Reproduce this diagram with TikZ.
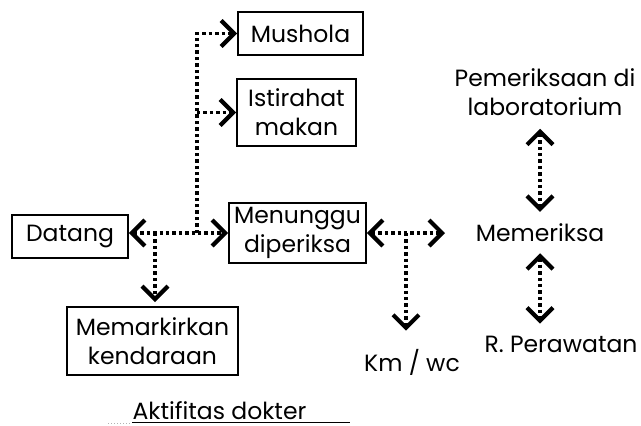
\documentclass[tikz,border=0pt]{standalone}
\usepackage{fontspec}
\setmainfont{Poppins}
\usetikzlibrary{arrows.meta}
\begin{document}
\begin{tikzpicture}[x=1pt,y=-1pt,
  txt/.style={font=\fontsize{23.5}{29}\selectfont, align=center, inner sep=0pt},
  box/.style={txt, draw, line width=1.8pt, minimum width=#1},
  chev/.tip={Straight Barb[length=13pt,width=26pt,line width=4.2pt,line cap=butt]},
  dots/.style={line width=3.6pt, dash pattern=on 3.4pt off 3pt},
  one/.style={dots, -chev},
  both/.style={dots, chev-chev},
]
\useasboundingbox (0,0) rectangle (641,426);

% boxed activities
\node[box=125pt, minimum height=43pt] (mus) at (300.5,33.5) {Mushola};
\node[box=119pt, minimum height=67pt] (ist) at (296.5,112.5) {Istirahat\\makan};
\node[box=137pt, minimum height=60pt] (men) at (297.5,233) {Menunggu\\diperiksa};
\node[box=116pt, minimum height=43pt] (dat) at (70,236.5) {Datang};
\node[box=171pt, minimum height=68pt] (mar) at (152.5,341) {Memarkirkan\\kendaraan};

% free labels
\node[txt] (lab) at (545,92) {Pemeriksaan di\\laboratorium};
\node[txt] (mem) at (540,233) {Memeriksa};
\node[txt] (rp) at (561,344) {R. Perawatan};
\node[txt] (km) at (412,362) {Km / wc};
\node[txt, anchor=base] (akt) at (219.5,419) {Aktifitas dokter};

% junctions
\coordinate (jd) at (155,233);
\coordinate (jv) at (197,233);
\coordinate (jm) at (406,233);
\coordinate (re) at (445,233);

% connectors
\draw[both] (dat.east |- men.west) -- (men.west);
\draw[one, shorten >=4pt] (jd) -- (jd |- mar.north);
\draw[one] (jv) |- (mus.west);
\draw[one] (jv |- ist.west) -- (ist.west);
\draw[both] (men.east) -- (re);
\draw[one, shorten >=18pt] (jm) -- (jm |- km.north);
\draw[both, shorten <=13pt, shorten >=12pt] (lab.south -| mem.north) -- (mem.north);
\draw[both, shorten <=11pt, shorten >=12pt] (mem.south) -- (mem.south |- rp.north);

% underline of the caption
\draw[line width=1.3pt] (132,422.5) -- (350,422.5);
\draw[gray!60, line width=0.8pt, dash pattern=on 1pt off 2pt] (108,423) -- (132,423);
\end{tikzpicture}
\end{document}
